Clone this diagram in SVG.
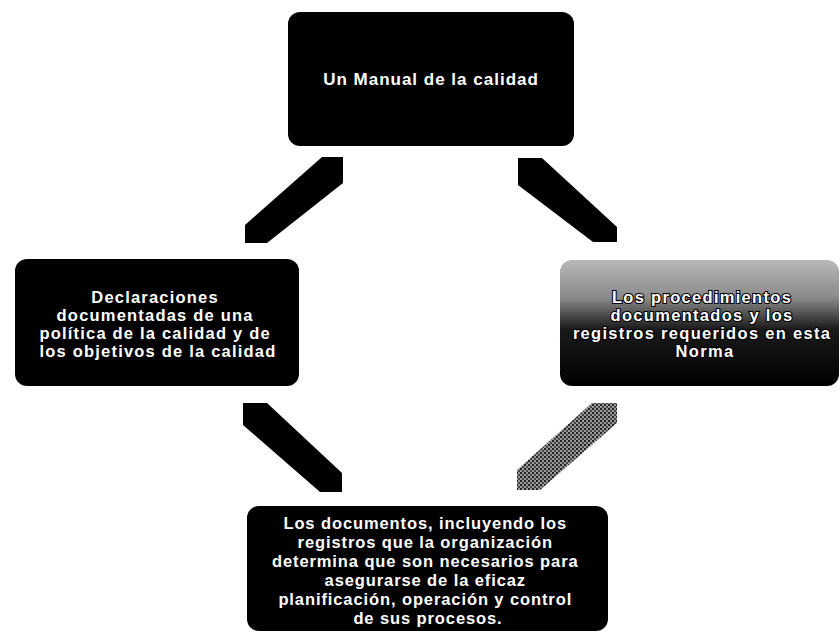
<svg xmlns="http://www.w3.org/2000/svg" width="840" height="632" viewBox="0 0 840 632">
  <style>
    .box { fill: #000; }
    .lbl { font-family: "Liberation Sans", Arial, sans-serif; font-weight: bold; fill: #fff; text-anchor: middle; }
    .outl { stroke: #000; stroke-width: 2.2; paint-order: stroke; }
    .arrow { fill: #000; }
  </style>
  <defs>
    <linearGradient id="gradRight" x1="0" y1="0" x2="0" y2="1">
      <stop offset="0" stop-color="#b8b8b8"/>
      <stop offset="0.3" stop-color="#8a8a8a"/>
      <stop offset="0.55" stop-color="#1a1a1a"/>
      <stop offset="1" stop-color="#000"/>
    </linearGradient>
    <pattern id="grain" width="4" height="4" patternUnits="userSpaceOnUse">
      <rect width="4" height="4" fill="#9a9a9a"/>
      <rect width="2" height="2" fill="#222"/>
      <rect x="2" y="2" width="2" height="2" fill="#444"/>
    </pattern>
  </defs>
  <rect width="840" height="632" fill="#fff"/>

  <g id="connectors">
    <!-- left box to top box -->
    <polygon class="arrow" points="322,157 343,157 343,183 267,243 245,243 245,225"/>
    <!-- top box to right box -->
    <polygon class="arrow" points="518,158 542,158 617,227 617,242 593,242 518,185"/>
    <!-- bottom box to left box -->
    <polygon class="arrow" points="243,403 267,403 342,473 342,492 320,492 243,425"/>
    <!-- right box to bottom box -->
    <polygon fill="url(#grain)" points="592,403 617,403 617,423 540,490 517,490 517,470"/>
  </g>

  <g id="node-top">
    <rect class="box" x="288" y="12" width="286" height="134" rx="12"/>
    <text class="lbl" x="431" y="85" font-size="17" letter-spacing="1">Un Manual de la calidad</text>
  </g>

  <g id="node-left">
    <rect class="box" x="15" y="259" width="284" height="127" rx="12"/>
    <text class="lbl outl" font-size="16.5" letter-spacing="1.2" x="158">
      <tspan x="158" y="303">Declaraciones</tspan>
      <tspan x="158" y="321">documentadas de una</tspan>
      <tspan x="158" y="339">política de la calidad y de</tspan>
      <tspan x="158" y="357">los objetivos de la calidad</tspan>
    </text>
  </g>

  <g id="node-right">
    <rect fill="url(#gradRight)" x="560" y="260" width="279" height="126" rx="12"/>
    <text class="lbl outl" font-size="16.5" letter-spacing="1.3" x="705">
      <tspan x="705" y="303">Los procedimientos</tspan>
      <tspan x="705" y="321">documentados y los</tspan>
      <tspan x="705" y="339">registros requeridos en esta</tspan>
      <tspan x="705" y="357">Norma</tspan>
    </text>
  </g>

  <g id="node-bottom">
    <rect class="box" x="247" y="506" width="361" height="125" rx="12"/>
    <text class="lbl" font-size="16.5" letter-spacing="0.9" x="428">
      <tspan x="428" y="529">Los documentos, incluyendo los</tspan>
      <tspan x="428" y="548">registros que la organización</tspan>
      <tspan x="428" y="567">determina que son necesarios para</tspan>
      <tspan x="428" y="586">asegurarse de la eficaz</tspan>
      <tspan x="428" y="605">planificación, operación y control</tspan>
      <tspan x="428" y="624">de sus procesos.</tspan>
    </text>
  </g>
</svg>
